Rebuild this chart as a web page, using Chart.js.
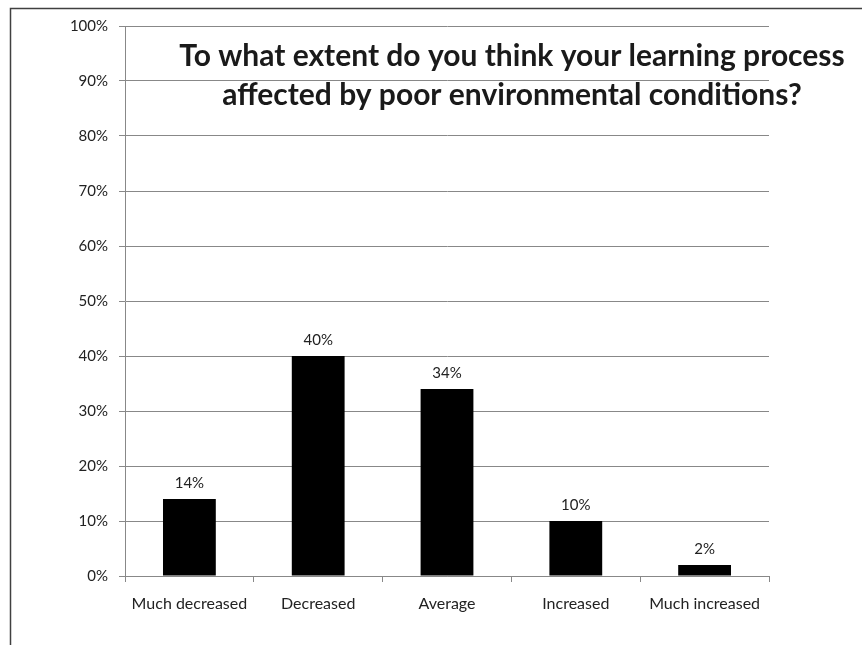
<!DOCTYPE html>
<html>
<head>
<meta charset="utf-8">
<script src="https://cdn.jsdelivr.net/npm/chart.js@4"></script>
<style>
  html, body { margin: 0; padding: 0; background: #fff; }
  #wrap { width: 862px; height: 645px; }
</style>
</head>
<body>
<div id="wrap"><canvas id="chart" width="862" height="645"></canvas></div>
<script>
// datos
const categories = ["Much decreased", "Decreased", "Average", "Increased", "Much increased"];
const percentages = [14, 40, 34, 10, 2];
const titleLines = [
  "To what extent do you think your learning process",
  "affected by poor environmental conditions?"
];

const FONT = "Lato, 'Liberation Sans', sans-serif";

// marco y titulo
const framePlugin = {
  id: "frame",
  beforeDraw(chart) {
    const ctx = chart.ctx;
    ctx.save();
    ctx.fillStyle = "#fff";
    ctx.fillRect(0, 0, chart.width, chart.height);
    ctx.strokeStyle = "#404040";
    ctx.lineWidth = 1.5;
    ctx.beginPath();
    ctx.moveTo(10.5, chart.height);
    ctx.lineTo(10.5, 8.5);
    ctx.lineTo(chart.width, 8.5);
    ctx.stroke();
    ctx.restore();
  },
  afterDraw(chart) {
    const ctx = chart.ctx;
    ctx.save();
    ctx.fillStyle = "#1a1a1a";
    ctx.font = "bold 30px " + FONT;
    ctx.textAlign = "center";
    ctx.textBaseline = "alphabetic";
    ctx.fillText(titleLines[0], 512, 66);
    ctx.fillText(titleLines[1], 512, 105);
    ctx.restore();
  }
};

// etiquetas sobre las barras
const labelPlugin = {
  id: "valueLabels",
  afterDatasetsDraw(chart) {
    const ctx = chart.ctx;
    const meta = chart.getDatasetMeta(0);
    ctx.save();
    ctx.fillStyle = "#222";
    ctx.font = "15px " + FONT;
    ctx.textAlign = "center";
    ctx.textBaseline = "alphabetic";
    meta.data.forEach((bar, i) => {
      ctx.fillText(percentages[i] + "%", bar.x, bar.y - 11);
    });
    ctx.restore();
  }
};

new Chart(document.getElementById("chart").getContext("2d"), {
  type: "bar",
  data: {
    labels: categories,
    datasets: [{
      data: percentages,
      backgroundColor: "#000",
      borderWidth: 0,
      categoryPercentage: 1,
      barPercentage: 0.41
    }]
  },
  options: {
    responsive: false,
    animation: false,
    layout: { padding: { left: 0, right: 93, top: 26, bottom: 0 } },
    plugins: {
      legend: { display: false },
      tooltip: { enabled: false },
      title: { display: false }
    },
    scales: {
      x: {
        grid: { display: true, drawOnChartArea: false, drawTicks: true, tickLength: 6, color: "#888", offset: true },
        border: { color: "#888", width: 1 },
        ticks: { color: "#222", font: { family: FONT, size: 16 }, padding: 12, maxRotation: 0 },
        afterFit(scale) { scale.height = 69; }
      },
      y: {
        min: 0,
        max: 100,
        grid: { color: "#888", lineWidth: 1, tickLength: 6 },
        border: { color: "#888", width: 1 },
        ticks: {
          stepSize: 10,
          color: "#222",
          font: { family: FONT, size: 15 },
          padding: 11,
          callback: (v) => v + "%"
        },
        afterFit(scale) { scale.width = 125; }
      }
    }
  },
  plugins: [framePlugin, labelPlugin]
});
</script>
</body>
</html>
